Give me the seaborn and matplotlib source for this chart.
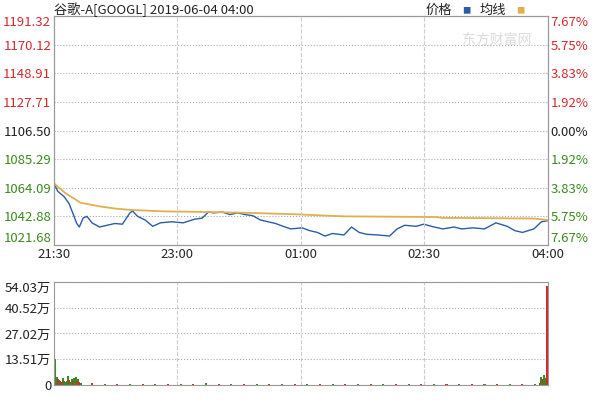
import matplotlib
matplotlib.use('Agg')
import matplotlib.pyplot as plt
import seaborn as sns
import pandas as pd

sns.set_style('white')
plt.rcParams['font.family'] = ['Noto Sans CJK SC', 'DejaVu Sans']

# minutes since 21:30
price_min = [0, 3, 8, 12, 18, 20, 23, 26, 30, 36, 42, 48, 54, 60, 62, 66, 72, 78, 84, 93, 102, 111, 117,
             122, 126, 133, 139, 145, 151, 157, 163, 169, 175, 181, 187, 196, 202, 208, 214, 220, 229, 235,
             241, 247, 256, 265, 271, 277, 286, 292, 298, 307, 316, 322, 331, 340, 349, 358, 364, 370, 379,
             385, 390]
price = [1067.3, 1061.4, 1057.5, 1052.2, 1037.6, 1035.0, 1041.6, 1042.9, 1038.1, 1035.0, 1036.3, 1037.6,
         1037.1, 1045.5, 1046.9, 1042.9, 1040.2, 1035.5, 1038.1, 1038.9, 1038.1, 1040.8, 1041.6, 1046.1,
         1045.5, 1046.1, 1044.2, 1045.5, 1044.2, 1043.4, 1040.2, 1038.9, 1037.6, 1035.5, 1033.6, 1034.4,
         1032.3, 1031.0, 1028.3, 1030.2, 1029.1, 1035.0, 1031.0, 1029.6, 1029.1, 1028.3, 1033.6, 1036.3,
         1035.5, 1037.1, 1035.5, 1033.6, 1035.0, 1033.6, 1034.4, 1033.6, 1038.1, 1035.5, 1032.3, 1031.0,
         1033.6, 1038.9, 1039.7]
avg_min = [0, 9, 21, 36, 48, 60, 87, 123, 153, 189, 229, 301, 307, 379, 390]
avg = [1067.3, 1060.1, 1053.0, 1050.3, 1048.7, 1047.7, 1046.6, 1046.1, 1045.5, 1044.5, 1042.9, 1042.4,
       1041.8, 1041.3, 1040.2]

price_ticks = [1021.68, 1042.88, 1064.09, 1085.29, 1106.50, 1127.71, 1148.91, 1170.12, 1191.32]
pct_labels = ['7.67%', '5.75%', '3.83%', '1.92%', '0.00%', '1.92%', '3.83%', '5.75%', '7.67%']
time_labels = ['21:30', '23:00', '01:00', '02:30', '04:00']

# volume in 万
vol_min = [1, 2, 3, 4, 5, 6, 7, 8, 9, 10, 11, 12, 13, 14, 15, 16, 17, 18, 19, 20, 21,
           30, 40, 50, 60, 70, 80, 90, 100, 110, 120, 130, 140, 150, 160, 170, 180, 190, 200,
           210, 220, 230, 240, 250, 260, 270, 280, 290, 300, 310, 320, 330, 340, 350, 360, 370,
           380, 384, 385, 386, 387, 388, 389]
vol = [13.5, 4.0, 3.0, 2.5, 2.0, 1.5, 3.5, 2.0, 1.5, 2.0, 4.5, 2.5, 1.5, 3.0, 2.0, 3.5, 4.0, 2.5,
       3.0, 1.5, 1.0,
       0.8, 0.6, 0.5, 0.5, 0.5, 0.6, 0.5, 0.5, 0.5, 1.0, 0.5, 0.5, 0.5, 0.5, 0.5, 0.5, 0.5, 0.5,
       0.5, 0.5, 0.5, 0.5, 0.5, 0.5, 0.5, 0.5, 0.5, 0.5, 0.5, 0.5, 0.5, 0.5, 0.5, 0.5, 0.5,
       0.6, 1.0, 4.0, 3.0, 5.0, 3.5, 52.0]
vol_up = [0, 0, 1, 0, 1, 0, 0, 1, 0, 0, 0, 1, 0, 0, 1, 0, 0, 1, 0, 1, 0,
          1, 0, 1, 0, 1, 0, 1, 0, 1, 0, 1, 0, 1, 0, 1, 0, 1, 0,
          1, 0, 1, 0, 1, 0, 1, 0, 1, 0, 1, 0, 1, 0, 1, 0, 1,
          0, 1, 0, 1, 0, 0, 1]
vol_ticks = [0, 13.51, 27.02, 40.52, 54.03]
vol_labels = ['0', '13.51万', '27.02万', '40.52万', '54.03万']

red, green, blk = '#d6282b', '#3a8a1f', '#222222'
fig = plt.figure(figsize=(6, 4), dpi=100)
ax = fig.add_axes([0.09, 0.3875, 0.823, 0.5725])
axv = fig.add_axes([0.09, 0.0375, 0.823, 0.2575])

sns.lineplot(x=price_min, y=price, ax=ax, color='#2a5caa', linewidth=1)
sns.lineplot(x=avg_min, y=avg, ax=ax, color='#e0b050', linewidth=1.3)
ax.set_xlim(0, 390)
ax.set_ylim(price_ticks[0], price_ticks[-1])
ax.set_yticks(price_ticks)
ax.set_yticklabels(['%.2f' % v for v in price_ticks], fontsize=9.5)
tick_cols = [green] * 4 + [blk] + [red] * 4
ax.set_xticks([0, 97.5, 195, 292.5, 390])
ax.set_xticklabels(time_labels, fontsize=9.5)
ax2 = ax.twinx()
ax2.set_ylim(price_ticks[0], price_ticks[-1])
ax2.set_yticks(price_ticks)
ax2.set_yticklabels(pct_labels, fontsize=9.5)
for a in [ax, ax2]:
    labs = a.get_yticklabels()
    for t, c in zip(labs, tick_cols):
        t.set_color(c)
    labs[0].set_va('bottom')
    labs[-1].set_va('top')
ax.grid(axis='y', linestyle=':', color='#aaaaaa', linewidth=0.8)
for x in [97.5, 195, 292.5]:
    ax.axvline(x, linestyle='--', color='#cccccc', linewidth=0.8)
    axv.axvline(x, linestyle='--', color='#cccccc', linewidth=0.8)

df = pd.DataFrame({'m': vol_min, 'v': vol, 'up': vol_up})
axv.bar(df['m'], df['v'], width=1.6, linewidth=0,
        color=[red if u else green for u in df['up']])
axv.set_xlim(0, 390)
axv.set_ylim(0, 54.03)
axv.set_yticks(vol_ticks)
axv.set_yticklabels(vol_labels, fontsize=9.5, color=blk)
axv.get_yticklabels()[-1].set_va('top')
axv.set_xticks([])
axv.grid(axis='y', linestyle=':', color='#aaaaaa', linewidth=0.8)

for a in [ax, ax2, axv]:
    a.tick_params(length=0, pad=2)
    for s in a.spines.values():
        s.set_color('#999999')

fig.text(0.09, 0.965, '谷歌-A[GOOGL] 2019-06-04 04:00', fontsize=9.5, color=blk)
fig.text(0.71, 0.965, '价格', fontsize=9.5, color=blk)
fig.text(0.77, 0.967, '■', fontsize=6, color='#2a5caa')
fig.text(0.80, 0.965, '均线', fontsize=9.5, color=blk)
fig.text(0.86, 0.967, '■', fontsize=6, color='#e0b050')
fig.text(0.77, 0.89, '东方财富网', fontsize=10, color='#cccccc', alpha=0.7)
fig.savefig('out.png')
